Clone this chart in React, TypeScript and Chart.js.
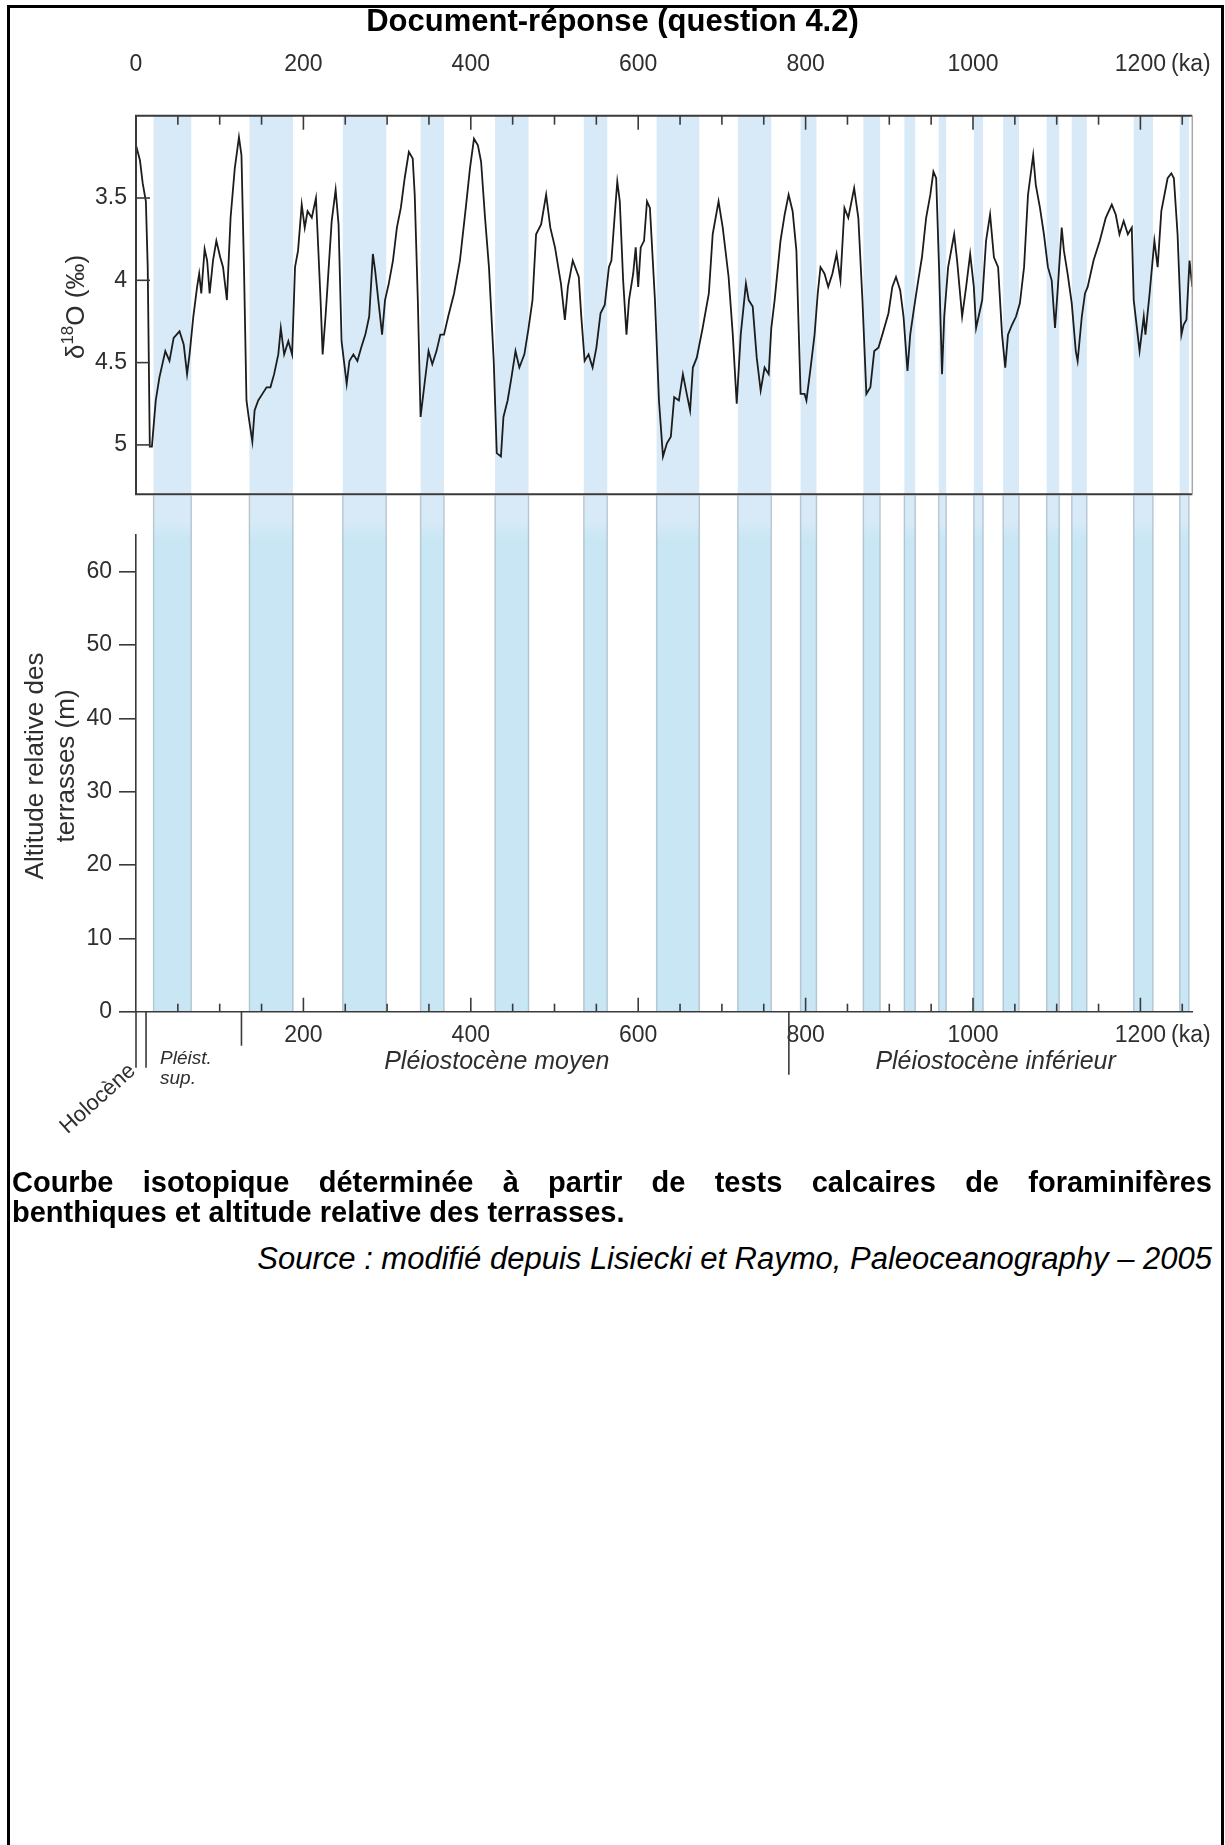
import React, { useEffect, useRef } from 'react';
import { Chart, registerables } from 'chart.js';

Chart.register(...registerables);

const FONT = "'Liberation Sans', Arial, Helvetica, sans-serif";

// ---- data (ka, δ18O ‰) ----
const ages: number[] = [
  0, 4.7, 8, 11.8, 14, 16.5, 19, 23.6, 28, 35,
  40, 45, 52, 57, 61, 64, 68.5, 73, 75.5, 78,
  82, 85, 88, 92, 96, 100.6, 104, 108.6, 113, 118,
  123, 126, 129, 132, 134.6, 139, 141.7, 146, 151, 156,
  160.6, 165, 170, 173, 177, 182, 186.5, 190, 193.6, 198,
  201.6, 205, 210, 215, 217, 220.5, 223, 226.7, 229, 233.8,
  238.5, 242, 245.6, 251.7, 255, 259.7, 264.5, 269, 274, 278.6,
  283, 285.7, 289.5, 294, 297.5, 302, 307, 311.7, 316.4, 321,
  326, 330.6, 333, 336.7, 340, 344.7, 349.5, 354, 359, 363.6,
  368, 373, 380, 387, 394, 399, 403.8, 408.5, 412.3, 417,
  421.7, 427.4, 431, 436, 439, 444, 448.6, 453.4, 458, 464,
  469, 473.7, 478, 484, 490, 495, 500.6, 507.7, 512.4, 516,
  521.8, 529, 532, 536, 540.7, 545.5, 550, 555, 560, 565,
  568, 572, 575, 578, 582, 586, 589, 594, 597, 600,
  603, 607, 610.5, 614, 620, 624.8, 629.6, 634.3, 639, 643,
  648.6, 653.4, 658, 662, 665.3, 670, 677, 684.4, 689, 696,
  701, 708, 713, 717.7, 722.5, 728.7, 732, 736.8, 741.6, 746.3,
  751, 755.9, 759, 763, 770, 775, 779.7, 784.5, 789, 794,
  798.8, 801, 806, 810.7, 814.5, 817.8, 822.6, 827, 832, 837,
  841.6, 846.4, 851, 858, 863, 867.9, 872.6, 877.4, 882, 887,
  891.7, 899, 903.6, 908, 913, 917, 921.7, 925, 929.8, 934.6,
  939, 944, 949, 952.7, 956, 959.4, 963, 965.6, 970.3, 977.5,
  981, 987, 991.8, 996.6, 1001, 1003.7, 1011, 1015.6, 1020.4, 1025,
  1030, 1034.7, 1038.5, 1041.8, 1046.6, 1051.4, 1056, 1061, 1065.7, 1071.9,
  1075, 1080, 1084.7, 1089.5, 1094, 1098, 1101.4, 1106, 1108.6, 1113,
  1118, 1122.8, 1125, 1130, 1133.8, 1137, 1144, 1151.5, 1158.6, 1165.8,
  1170.5, 1175, 1180, 1185, 1189.7, 1192, 1199, 1204, 1206, 1211,
  1216.7, 1220.6, 1225, 1232.5, 1237, 1240, 1244.4, 1249, 1251.6, 1255,
  1258.7, 1262,
];

const d18O: number[] = [
  3.18, 3.27, 3.41, 3.52, 3.92, 5.01, 5.01, 4.73, 4.59, 4.43,
  4.49, 4.35, 4.31, 4.39, 4.57, 4.45, 4.22, 4.04, 3.96, 4.08,
  3.81, 3.88, 4.08, 3.88, 3.76, 3.86, 3.92, 4.12, 3.62, 3.32,
  3.13, 3.24, 3.92, 4.73, 4.83, 4.98, 4.79, 4.73, 4.69, 4.65,
  4.65, 4.57, 4.45, 4.29, 4.45, 4.37, 4.45, 3.92, 3.82, 3.54,
  3.68, 3.58, 3.62, 3.50, 3.72, 4.12, 4.45, 4.20, 4.02, 3.64,
  3.45, 3.66, 4.37, 4.63, 4.49, 4.45, 4.49, 4.41, 4.33, 4.22,
  3.84, 3.94, 4.12, 4.33, 4.12, 4.02, 3.88, 3.68, 3.56, 3.38,
  3.22, 3.26, 3.48, 4.12, 4.83, 4.63, 4.43, 4.51, 4.43, 4.33,
  4.33, 4.22, 4.08, 3.88, 3.56, 3.32, 3.14, 3.18, 3.28, 3.62,
  3.92, 4.49, 5.05, 5.07, 4.83, 4.73, 4.59, 4.43, 4.53, 4.45,
  4.29, 4.12, 3.72, 3.66, 3.48, 3.68, 3.80, 4.02, 4.24, 4.04,
  3.88, 3.98, 4.22, 4.49, 4.45, 4.53, 4.41, 4.20, 4.15, 3.92,
  3.88, 3.60, 3.40, 3.52, 4.00, 4.33, 4.12, 3.96, 3.80, 4.04,
  3.80, 3.76, 3.52, 3.56, 4.12, 4.73, 5.07, 4.99, 4.95, 4.71,
  4.73, 4.57, 4.69, 4.79, 4.53, 4.47, 4.29, 4.08, 3.72, 3.52,
  3.68, 3.98, 4.33, 4.75, 4.33, 4.02, 4.12, 4.16, 4.47, 4.67,
  4.53, 4.57, 4.29, 4.12, 3.76, 3.60, 3.48, 3.58, 3.82, 4.69,
  4.69, 4.73, 4.53, 4.33, 4.08, 3.92, 3.96, 4.04, 3.96, 3.84,
  4.00, 3.56, 3.62, 3.44, 3.62, 4.12, 4.69, 4.65, 4.43, 4.41,
  4.33, 4.20, 4.04, 3.98, 4.06, 4.22, 4.55, 4.33, 4.16, 4.00,
  3.86, 3.62, 3.48, 3.34, 3.38, 3.92, 4.57, 4.22, 3.92, 3.72,
  3.88, 4.22, 4.04, 3.84, 4.04, 4.29, 4.12, 3.76, 3.60, 3.86,
  3.92, 4.33, 4.53, 4.33, 4.27, 4.22, 4.14, 3.92, 3.48, 3.24,
  3.42, 3.56, 3.72, 3.92, 4.00, 4.29, 4.04, 3.68, 3.82, 3.96,
  4.14, 4.43, 4.49, 4.22, 4.08, 4.04, 3.88, 3.76, 3.62, 3.54,
  3.60, 3.72, 3.64, 3.72, 3.68, 4.12, 4.43, 4.22, 4.33, 4.08,
  3.76, 3.92, 3.58, 3.38, 3.35, 3.38, 3.72, 4.33, 4.27, 4.24,
  3.88, 4.04,
];

// shaded bands (ka)
const bandStart: number[] = [21, 135.5, 247, 340, 429, 535, 622, 719, 794, 869, 918, 959, 1001, 1036, 1088, 1118, 1192, 1247];
const bandEnd: number[] = [66, 187.5, 299, 368, 469, 563, 673, 759, 813, 889, 931, 968, 1012, 1055, 1103, 1136, 1215, 1258];

// ticks
const topXTicks: number[] = [0, 200, 400, 600, 800, 1000, 1200];
const topYTicks: number[] = [3.5, 4, 4.5, 5];
const bottomXTicks: number[] = [200, 400, 600, 800, 1000, 1200];
const bottomYTicks: number[] = [0, 10, 20, 30, 40, 50, 60];
const minorXTicks: number[] = [0, 50, 100, 150, 200, 250, 300, 350, 400, 450, 500, 550, 600, 650, 700, 750, 800, 850, 900, 950, 1000, 1050, 1100, 1150, 1200, 1250];

// geological periods (ka)
const eraBoundaries: number[] = [0, 12, 126, 780];
const eraLineLengths: number[] = [56, 56, 34, 63];
const eraNames: string[] = ['Pléiostocène moyen', 'Pléiostocène inférieur'];
const eraNameCenters: number[] = [431, 1027];

const X_MIN = 0;
const X_MAX = 1262;

// page geometry
const PLOT_LEFT = 136;
const PLOT_RIGHT = 1192.3;
const TOP_CANVAS_TOP = 40;
const TOP_CANVAS_H = 465;
const TOP_PLOT_TOP = 115.7;
const TOP_PLOT_BOTTOM = 494.3;
const TOP_LABEL_Y = 64.5;
const BOT_CANVAS_TOP = 494;
const BOT_CANVAS_H = 680;
const BOT_PLOT_TOP = 535;
const BOT_PLOT_BOTTOM = 1011.7;

const INK = '#2e2e2e';
const TICK_FONT = { family: FONT, size: 23, lineHeight: 1.2 };

function drawRich(ctx: CanvasRenderingContext2D, parts: [string, string, number][], cx: number, cy: number, angle: number) {
  ctx.save();
  ctx.translate(cx, cy);
  ctx.rotate(angle);
  ctx.textBaseline = 'middle';
  ctx.textAlign = 'left';
  let total = 0;
  parts.forEach(([t, f]) => { ctx.font = f; total += ctx.measureText(t).width; });
  let x = -total / 2;
  parts.forEach(([t, f, dy]) => {
    ctx.font = f;
    ctx.fillText(t, x, dy);
    x += ctx.measureText(t).width;
  });
  ctx.restore();
}

const topPlugin = {
  id: 'topDecor',
  beforeDraw(chart: any) {
    const { ctx, chartArea, scales } = chart;
    const xs = scales.x;
    ctx.save();
    ctx.fillStyle = '#d8eaf7';
    bandStart.forEach((s, i) => {
      const x0 = xs.getPixelForValue(s);
      const x1 = xs.getPixelForValue(bandEnd[i]);
      ctx.fillRect(x0, chartArea.top, x1 - x0, chartArea.bottom - chartArea.top);
    });
    ctx.restore();
  },
  afterDraw(chart: any) {
    const { ctx, chartArea, scales } = chart;
    const { left, right, top, bottom } = chartArea;
    const xs = scales.x;
    const ys = scales.y;
    ctx.save();
    // frame
    ctx.strokeStyle = '#3a3a3a';
    ctx.lineWidth = 2;
    ctx.beginPath();
    ctx.moveTo(right, top); ctx.lineTo(left, top); ctx.lineTo(left, bottom); ctx.lineTo(right, bottom);
    ctx.stroke();
    ctx.strokeStyle = '#a8a8a8';
    ctx.lineWidth = 1.5;
    ctx.beginPath(); ctx.moveTo(right, top); ctx.lineTo(right, bottom); ctx.stroke();
    // inward ticks on top
    ctx.strokeStyle = '#3a3a3a';
    ctx.lineWidth = 1.6;
    minorXTicks.forEach((v) => {
      const x = xs.getPixelForValue(v);
      if (x > right) return;
      const len = v % 200 === 0 ? 14 : 9;
      ctx.beginPath(); ctx.moveTo(x, top); ctx.lineTo(x, top + len); ctx.stroke();
    });
    // inward ticks on left
    topYTicks.forEach((v) => {
      const y = ys.getPixelForValue(v);
      ctx.beginPath(); ctx.moveTo(left, y); ctx.lineTo(left + 14, y); ctx.stroke();
    });
    // (ka)
    ctx.fillStyle = INK;
    ctx.font = `23px ${FONT}`;
    ctx.textBaseline = 'middle';
    ctx.textAlign = 'left';
    const w1200 = ctx.measureText('1200').width;
    ctx.fillText('(ka)', xs.getPixelForValue(1200) + w1200 / 2 + 5, TOP_LABEL_Y - TOP_CANVAS_TOP);
    // y title
    drawRich(ctx, [
      ['δ', `26px ${FONT}`, 0],
      ['18', `17px ${FONT}`, -9],
      ['O (‰)', `26px ${FONT}`, 0],
    ], 77, 307 - TOP_CANVAS_TOP, -Math.PI / 2);
    ctx.restore();
  },
};

const botPlugin = {
  id: 'botDecor',
  beforeDraw(chart: any) {
    const { ctx, chartArea, scales } = chart;
    const xs = scales.x;
    const bottom = chartArea.bottom;
    const grad = ctx.createLinearGradient(0, 0, 0, bottom);
    const g1 = Math.max(0, (chartArea.top - 14) / bottom);
    const g2 = Math.min(1, (chartArea.top + 6) / bottom);
    grad.addColorStop(0, '#d8eaf7');
    grad.addColorStop(g1, '#d8eaf7');
    grad.addColorStop(g2, '#c8e6f4');
    grad.addColorStop(1, '#c8e6f4');
    ctx.save();
    ctx.fillStyle = grad;
    bandStart.forEach((s, i) => {
      const x0 = xs.getPixelForValue(s);
      const x1 = xs.getPixelForValue(bandEnd[i]);
      ctx.fillRect(x0, 1.5, x1 - x0, bottom - 1.5);
    });
    ctx.strokeStyle = 'rgba(150,168,182,0.6)';
    ctx.lineWidth = 1.4;
    bandStart.forEach((s, i) => {
      [s, bandEnd[i]].forEach((v) => {
        const x = xs.getPixelForValue(v);
        ctx.beginPath(); ctx.moveTo(x, 1.5); ctx.lineTo(x, bottom); ctx.stroke();
      });
    });
    ctx.restore();
  },
  afterDraw(chart: any) {
    const { ctx, chartArea, scales } = chart;
    const { right, bottom } = chartArea;
    const xs = scales.x;
    const off = BOT_CANVAS_TOP;
    ctx.save();
    ctx.strokeStyle = '#3a3a3a';
    ctx.lineWidth = 1.6;
    // inward ticks on x axis
    minorXTicks.forEach((v) => {
      if (v === 0) return;
      const x = xs.getPixelForValue(v);
      if (x > right) return;
      const len = v % 200 === 0 ? 14 : 8;
      ctx.beginPath(); ctx.moveTo(x, bottom); ctx.lineTo(x, bottom - len); ctx.stroke();
    });
    // period boundaries below the axis
    eraBoundaries.forEach((v, i) => {
      const x = xs.getPixelForValue(v);
      ctx.beginPath(); ctx.moveTo(x, bottom); ctx.lineTo(x, bottom + eraLineLengths[i]); ctx.stroke();
    });
    ctx.fillStyle = INK;
    ctx.textBaseline = 'middle';
    // (ka)
    ctx.font = `23px ${FONT}`;
    ctx.textAlign = 'left';
    const w1200 = ctx.measureText('1200').width;
    ctx.fillText('(ka)', xs.getPixelForValue(1200) + w1200 / 2 + 5, 1036 - off);
    // period names
    ctx.font = `italic 19px ${FONT}`;
    ctx.fillText('Pléist.', 160, 1059 - off);
    ctx.fillText('sup.', 160, 1079 - off);
    ctx.font = `italic 25px ${FONT}`;
    ctx.textAlign = 'center';
    eraNames.forEach((n, i) => {
      ctx.fillText(n, xs.getPixelForValue(eraNameCenters[i]), 1062 - off);
    });
    // Holocène
    ctx.save();
    ctx.translate(98, 1099 - off);
    ctx.rotate(-42 * Math.PI / 180);
    ctx.font = `22px ${FONT}`;
    ctx.textAlign = 'center';
    ctx.fillText('Holocène', 0, 0);
    ctx.restore();
    // y title
    ctx.font = `26px ${FONT}`;
    ctx.textAlign = 'center';
    ctx.save(); ctx.translate(36, 766 - off); ctx.rotate(-Math.PI / 2); ctx.fillText('Altitude relative des', 0, 0); ctx.restore();
    ctx.save(); ctx.translate(67, 766 - off); ctx.rotate(-Math.PI / 2); ctx.fillText('terrasses (m)', 0, 0); ctx.restore();
    ctx.restore();
  },
};

export default function App() {
  const topRef = useRef<HTMLCanvasElement>(null);
  const botRef = useRef<HTMLCanvasElement>(null);

  useEffect(() => {
    if (!topRef.current || !botRef.current) return;
    const topChart = new Chart(topRef.current, {
      type: 'line',
      data: {
        datasets: [{
          data: ages.map((a, i) => ({ x: a, y: d18O[i] })),
          borderColor: '#1c1c1c',
          borderWidth: 1.8,
          pointRadius: 0,
          tension: 0,
          fill: false,
        }],
      },
      options: {
        responsive: false,
        animation: false,
        events: [],
        layout: {
          autoPadding: false,
          padding: { left: 0, top: 0, right: 1225 - PLOT_RIGHT, bottom: TOP_CANVAS_H - (TOP_PLOT_BOTTOM - TOP_CANVAS_TOP) },
        },
        plugins: { legend: { display: false }, tooltip: { enabled: false } },
        scales: {
          x: {
            type: 'linear', position: 'top', min: X_MIN, max: X_MAX,
            afterFit: (s: any) => { s.height = TOP_PLOT_TOP - TOP_CANVAS_TOP; s.paddingLeft = 0; s.paddingRight = 0; },
            afterBuildTicks: (s: any) => { s.ticks = topXTicks.map((v) => ({ value: v })); },
            grid: { display: false, drawTicks: false },
            border: { display: false },
            ticks: {
              padding: (TOP_PLOT_TOP - TOP_LABEL_Y) - 13.8,
              maxRotation: 0, autoSkip: false, font: TICK_FONT, color: INK, callback: (v: any) => String(v),
            },
          },
          y: {
            type: 'linear', reverse: true, min: 3.0, max: 5.3,
            afterFit: (s: any) => { s.width = PLOT_LEFT; s.paddingTop = 0; s.paddingBottom = 0; },
            afterBuildTicks: (s: any) => { s.ticks = topYTicks.map((v) => ({ value: v })); },
            grid: { display: false, drawTicks: false },
            border: { display: false },
            ticks: { padding: 9, autoSkip: false, font: TICK_FONT, color: INK, callback: (v: any) => String(v) },
          },
        },
      } as any,
      plugins: [topPlugin],
    });

    const botChart = new Chart(botRef.current, {
      type: 'line',
      data: { datasets: [] },
      options: {
        responsive: false,
        animation: false,
        events: [],
        layout: {
          autoPadding: false,
          padding: { left: 0, top: BOT_PLOT_TOP - BOT_CANVAS_TOP, right: 1225 - PLOT_RIGHT, bottom: 0 },
        },
        plugins: { legend: { display: false }, tooltip: { enabled: false } },
        scales: {
          x: {
            type: 'linear', position: 'bottom', min: X_MIN, max: X_MAX,
            afterFit: (s: any) => { s.height = BOT_CANVAS_H - (BOT_PLOT_BOTTOM - BOT_CANVAS_TOP); s.paddingLeft = 0; s.paddingRight = 0; },
            afterBuildTicks: (s: any) => { s.ticks = bottomXTicks.map((v) => ({ value: v })); },
            grid: { display: false, drawTicks: false },
            border: { display: true, color: '#3a3a3a', width: 1.6 },
            ticks: { padding: 10.5, maxRotation: 0, autoSkip: false, font: TICK_FONT, color: INK, callback: (v: any) => String(v) },
          },
          y: {
            type: 'linear', min: 0, max: 65,
            afterFit: (s: any) => { s.width = PLOT_LEFT; s.paddingTop = 0; s.paddingBottom = 0; },
            afterBuildTicks: (s: any) => { s.ticks = bottomYTicks.map((v) => ({ value: v })); },
            grid: { display: true, drawOnChartArea: false, drawTicks: true, tickLength: 17, color: '#3a3a3a', lineWidth: 1.6 },
            border: { display: true, color: '#3a3a3a', width: 1.6 },
            ticks: { padding: 7, autoSkip: false, font: TICK_FONT, color: INK, callback: (v: any) => String(v) },
          },
        },
      } as any,
      plugins: [botPlugin],
    });

    return () => { topChart.destroy(); botChart.destroy(); };
  }, []);

  return (
    <div style={{ position: 'relative', width: 1225, height: 1845, background: '#fff', overflow: 'hidden', fontFamily: FONT, color: '#000' }}>
      <style>{'html,body{margin:0;padding:0;background:#fff;}'}</style>
      <div style={{ position: 'absolute', left: 7, top: 5, width: 1217, height: 1845, boxSizing: 'border-box', borderLeft: '3px solid #000', borderTop: '3px solid #000', borderRight: '3px solid #000', zIndex: 4 }} />
      <div style={{ position: 'absolute', left: 0, top: 3, width: 1225, textAlign: 'center', fontWeight: 'bold', fontSize: 31, lineHeight: '36px', zIndex: 3 }}>
        Document-réponse (question 4.2)
      </div>
      <canvas ref={botRef} width={1225} height={BOT_CANVAS_H} style={{ position: 'absolute', left: 0, top: BOT_CANVAS_TOP, width: 1225, height: BOT_CANVAS_H, zIndex: 1 }} />
      <canvas ref={topRef} width={1225} height={TOP_CANVAS_H} style={{ position: 'absolute', left: 0, top: TOP_CANVAS_TOP, width: 1225, height: TOP_CANVAS_H, zIndex: 2 }} />
      <div style={{ position: 'absolute', left: 12, top: 1168, width: 1200, fontWeight: 'bold', fontSize: 29, lineHeight: '29.5px', zIndex: 3 }}>
        <div style={{ textAlign: 'justify', textAlignLast: 'justify' as any }}>
          Courbe isotopique déterminée à partir de tests calcaires de foraminifères
        </div>
        <div>benthiques et altitude relative des terrasses.</div>
      </div>
      <div style={{ position: 'absolute', left: 0, top: 1242, width: 1212, textAlign: 'right', fontStyle: 'italic', fontSize: 31, lineHeight: '34px', zIndex: 3 }}>
        Source : modifié depuis Lisiecki et Raymo, Paleoceanography – 2005
      </div>
    </div>
  );
}
